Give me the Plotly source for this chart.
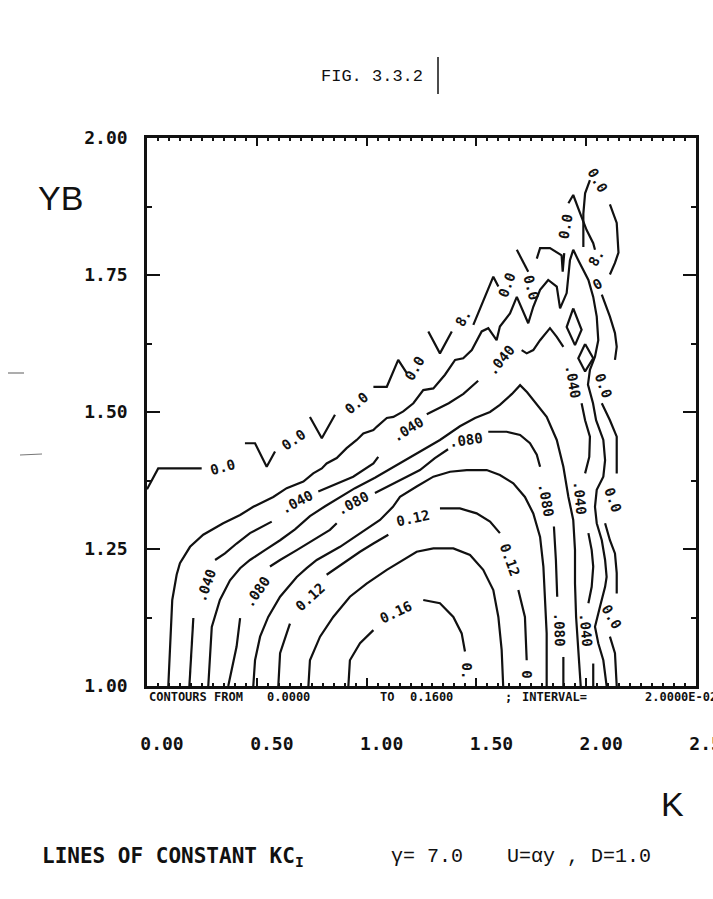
import plotly.graph_objects as go

# ---------------- data (K, YB) ----------------
# contour 0.16
c016_k = [0.917, 0.924, 0.970, 1.031, None, 1.258, 1.334, 1.395, 1.433, 1.448]
c016_yb = [1.000, 1.047, 1.078, 1.102, None, 1.157, 1.151, 1.126, 1.096, 1.063]

# contour 0.14
c014_k = [0.735, 0.742, 0.788, 0.848, 0.924, 1.000, 1.092, 1.167, 1.228, 1.304, 1.395,
          1.471, 1.531, 1.577, 1.600, 1.615, 1.622]
c014_yb = [1.000, 1.047, 1.090, 1.126, 1.163, 1.187, 1.212, 1.230, 1.245, 1.251, 1.251,
           1.239, 1.212, 1.175, 1.126, 1.066, 1.000]

# contour 0.12
c012_k = [0.598, 0.606, 0.636, 0.651, None, 0.818, 0.894, 0.970, 1.031, 1.099, None,
          1.334, 1.425, 1.501, 1.562, 1.607, None, 1.691, 1.721, 1.729]
c012_yb = [1.000, 1.060, 1.096, 1.114, None, 1.203, 1.224, 1.245, 1.260, 1.276, None,
           1.324, 1.324, 1.315, 1.300, 1.279, None, 1.175, 1.126, 1.047]

# contour 0.10
c010_k = [0.484, 0.492, 0.515, 0.552, 0.606, 0.651, 0.682, 0.727, 0.773, 0.879, 0.970,
          1.061, 1.120, 1.152, 1.228, 1.304, 1.380, 1.456, 1.547, 1.607, 1.668, 1.721,
          1.759, 1.790, 1.805, 1.812, 1.820, 1.820]
c010_yb = [1.000, 1.047, 1.090, 1.126, 1.163, 1.184, 1.199, 1.215, 1.230, 1.254, 1.279,
           1.303, 1.327, 1.345, 1.364, 1.382, 1.391, 1.394, 1.394, 1.385, 1.370, 1.345,
           1.315, 1.272, 1.218, 1.157, 1.096, 1.000]

# contour 0.08
c008_k = [0.370, 0.408, 0.424, None, 0.560, 0.606, 0.682, 0.757, 0.833, 0.864, None,
          1.038, 1.122, 1.183, 1.243, 1.311, 1.371, None, 1.554, 1.638, 1.699, 1.744,
          1.775, 1.790, None, 1.853, 1.862, 1.868, None, 1.896, 1.896]
c008_yb = [1.000, 1.072, 1.124, None, 1.218, 1.230, 1.248, 1.266, 1.285, 1.297, None,
           1.352, 1.370, 1.382, 1.394, 1.416, 1.432, None, 1.464, 1.464, 1.458, 1.443,
           1.422, 1.400, None, 1.291, 1.230, 1.163, None, 1.053, 1.000]

# contour 0.06
c006_k = [0.279, 0.295, 0.332, 0.378, 0.424, 0.469, 0.537, 0.606, 0.674, 0.742, 0.811,
          0.879, 0.947, 1.038, 1.152, 1.243, 1.334, 1.425, 1.494, 1.562, 1.607, 1.662,
          1.699, 1.731, 1.759, 1.820, 1.866, 1.896, 1.919, 1.941, 1.949, 1.949, 1.954,
          1.964, 1.975]
c006_yb = [1.000, 1.108, 1.157, 1.193, 1.215, 1.230, 1.248, 1.266, 1.286, 1.310, 1.328,
           1.345, 1.361, 1.380, 1.407, 1.427, 1.449, 1.474, 1.489, 1.500, 1.513, 1.533,
           1.549, 1.536, 1.522, 1.491, 1.449, 1.400, 1.345, 1.303, 1.248, 1.187, 1.126,
           1.066, 1.000]

# contour 0.04
c004_k = [0.193, 0.204, 0.211, None, 0.310, 0.355, 0.408, 0.469, 0.568, None,
          0.780, 0.864, 0.939, 1.031, 1.053, None, 1.274, 1.374, 1.441, 1.508, None,
          1.706, 1.729, 1.759, 1.790, 1.835, 1.866, 1.896, None,
          1.979, 1.995, 2.017, 2.014, 1.995, None, 2.010, 2.025, 2.032, 2.025, 2.010, None,
          2.032, 2.032]
c004_yb = [1.000, 1.072, 1.124, None, 1.230, 1.242, 1.260, 1.279, 1.300, None,
           1.355, 1.370, 1.382, 1.406, 1.418, None, 1.496, 1.516, 1.533, 1.557, None,
           1.613, 1.607, 1.613, 1.631, 1.653, 1.637, 1.619, None,
           1.516, 1.485, 1.455, 1.418, 1.388, None, 1.279, 1.248, 1.218, 1.181, 1.151, None,
           1.041, 1.000]

# contour 0.02
c002_k = [0.097, 0.105, 0.115, 0.135, 0.150, 0.196, 0.256, 0.347, 0.424, 0.484, 0.530,
          0.575, 0.636, 0.712, 0.757, 0.796, 0.818, 0.864, 0.909, 0.955, 0.985, 1.031,
          1.046, 1.092, 1.122, 1.167, 1.213, 1.258, 1.304, 1.357, 1.403, 1.440, 1.479,
          1.524, 1.554, 1.592, 1.607, 1.653, 1.684, 1.736, 1.759, 1.790, 1.827, 1.866,
          1.881, 1.911, 1.926, 1.941, 1.964, 2.010, 2.032, 2.048, 2.055, 2.040, 2.017,
          2.008, 2.031, 2.045, 2.078, 2.086, 2.078, 2.048, 2.040, 2.048, 2.071, 2.086,
          2.093, 2.086, 2.063, 2.040, 2.055, 2.078, 2.093]
c002_yb = [1.000, 1.078, 1.157, 1.203, 1.224, 1.254, 1.276, 1.297, 1.312, 1.327, 1.336,
           1.345, 1.361, 1.373, 1.388, 1.397, 1.406, 1.416, 1.434, 1.449, 1.461, 1.467,
           1.473, 1.489, 1.491, 1.501, 1.516, 1.540, 1.543, 1.568, 1.595, 1.598, 1.613,
           1.647, 1.653, 1.631, 1.656, 1.680, 1.710, 1.662, 1.692, 1.723, 1.741, 1.729,
           1.689, 1.717, 1.777, 1.796, 1.777, 1.741, 1.710, 1.674, 1.631, 1.601, 1.577,
           1.550, 1.516, 1.485, 1.449, 1.412, 1.382, 1.358, 1.327, 1.297, 1.266, 1.230,
           1.199, 1.181, 1.145, 1.108, 1.078, 1.047, 1.000]

# contour 0.0 (outer boundary)
c000_k = [0.000, 0.051, 0.249, None, 0.446, 0.492, 0.545, 0.583, None, 0.742, 0.796, 0.856,
          None, 1.031, 1.092, 1.144, 1.183, None, 1.281, 1.334, 1.388, None, 1.486, 1.531,
          1.577, 1.600, None, 1.684, 1.736, None, 1.775, 1.790, 1.835, 1.888, 1.893, 1.900,
          None, 1.919, 1.941, 1.972, 2.002, 2.032, 2.040, None, 2.071, 2.108, 2.131, 2.139,
          2.131, None, 2.071, 2.108, 2.139, 2.139, None, 2.086, 2.108, 2.131, 2.139, 2.139,
          None, 2.108, 2.131, 2.139]
c000_yb = [1.359, 1.397, 1.397, None, 1.443, 1.443, 1.400, 1.428, None, 1.491, 1.452, 1.495,
           None, 1.546, 1.546, 1.595, 1.571, None, 1.647, 1.607, 1.647, None, 1.659, 1.704,
           1.747, 1.729, None, 1.796, 1.756, None, 1.780, 1.799, 1.799, 1.786, 1.756, 1.790,
           None, 1.881, 1.896, 1.863, 1.832, 1.808, 1.796, None, 1.714, 1.674, 1.644, 1.619,
           1.595, None, 1.516, 1.485, 1.455, 1.388, None, 1.297, 1.266, 1.242, 1.206, 1.169,
           None, 1.090, 1.060, 1.000]

# small closed 0.0 island near the top right
island_k = [2.108, 2.139, 2.147, 2.131, 2.108, None, 2.017, 1.995, 1.987, 1.987]
island_yb = [1.879, 1.845, 1.791, 1.772, 1.751, None, 1.923, 1.899, 1.862, 1.801]

# two small diamond-shaped closed contours
diamond1_k = [1.941, 1.979, 1.949, 1.911, 1.941]
diamond1_yb = [1.689, 1.650, 1.622, 1.655, 1.689]
diamond2_k = [1.995, 2.032, 1.995, 1.964, 1.995]
diamond2_yb = [1.624, 1.598, 1.574, 1.598, 1.624]

# contour labels
label_text = ["0.16", "0.", "0.12", "0.12", "0.12", "0",
              ".080", ".080", ".080", ".080", ".080",
              ".040", ".040", ".040", ".040", ".040", ".040", ".040",
              "0.0", "0.0", "0.0", "0.0", "8.", "0.0", "0.0", "0.0", "8.", "0",
              "0.0", "0.0", "0.0", "0.0"]
label_k = [1.134, 1.456, 0.742, 1.211, 1.653, 1.729,
           0.500, 0.939, 1.453, 1.817, 1.878,
           0.270, 0.682, 1.189, 1.612, 1.941, 1.972, 1.999,
           0.346, 0.666, 0.955, 1.220, 1.440, 1.638, 1.752, 1.905, 2.045, 2.051,
           2.077, 2.122, 2.117, 2.051]
label_yb = [1.135, 1.027, 1.163, 1.307, 1.230, 1.022,
            1.172, 1.334, 1.449, 1.339, 1.102,
            1.184, 1.336, 1.469, 1.595, 1.555, 1.343, 1.102,
            1.400, 1.449, 1.516, 1.580, 1.671, 1.732, 1.727, 1.838, 1.781, 1.734,
            1.549, 1.339, 1.126, 1.923]

# axis ticks
x_tick_vals = [0.0, 0.5, 1.0, 1.5, 2.0, 2.5]
x_tick_text = ["0.00", "0.50", "1.00", "1.50", "2.00", "2.50"]
y_tick_vals = [1.0, 1.25, 1.5, 1.75, 2.0]
y_tick_text = ["1.00", "1.25", "1.50", "1.75", "2.00"]

# ---------------- styling / layout ----------------
label_angle = [-25, 90, -42, -12, 70, 90,
               -55, -28, -8, 80, 88,
               -70, -28, -32, -50, 80, 85, 85,
               -15, -35, -40, -60, -60, -70, 75, -80, -60, -30,
               70, 70, 60, 60]

W, H = 713, 899
ML, MR, MT, MB = 147, 17, 138, 213
PW, PH = W - ML - MR, H - MT - MB


def paper(px, py):
    return (px - ML) / PW, (H - MB - py) / PH


INK = "#111111"
fig = go.Figure()

for kk, yy in [(c000_k, c000_yb), (c002_k, c002_yb), (c004_k, c004_yb),
               (c006_k, c006_yb), (c008_k, c008_yb), (c010_k, c010_yb),
               (c012_k, c012_yb), (c014_k, c014_yb), (c016_k, c016_yb),
               (island_k, island_yb), (diamond1_k, diamond1_yb),
               (diamond2_k, diamond2_yb)]:
    fig.add_trace(go.Scatter(x=kk, y=yy, mode="lines", connectgaps=False,
                             line=dict(color=INK, width=2.2),
                             hoverinfo="skip", showlegend=False))

lab_font = dict(family="DejaVu Sans Mono", size=14, color=INK, weight="bold")
for t, k, yb, a in zip(label_text, label_k, label_yb, label_angle):
    fig.add_annotation(x=k, y=yb, xref="x", yref="y", text=t, textangle=a,
                       showarrow=False, font=lab_font)

tick_font = dict(family="DejaVu Sans Mono", size=18, color=INK, weight="bold")
fig.update_xaxes(range=[0, 2.5], showgrid=False, zeroline=False, showline=True,
                 linecolor=INK, linewidth=2.5, mirror="allticks", ticks="inside",
                 ticklen=8, tickwidth=2, tickcolor=INK, automargin=False,
                 tickvals=x_tick_vals, ticktext=x_tick_text, tickfont=tick_font,
                 ticklabelstandoff=40, ticklabelshift=15, ticklabeloverflow="allow",
                 minor=dict(dtick=0.05, ticks="inside", ticklen=3, tickwidth=1.5,
                            tickcolor=INK, showgrid=False))
fig.update_yaxes(range=[1, 2], showgrid=False, zeroline=False, showline=True,
                 linecolor=INK, linewidth=2.5, mirror="allticks", ticks="inside",
                 ticklen=13, tickwidth=2, tickcolor=INK, automargin=False,
                 tickvals=y_tick_vals, ticktext=y_tick_text, tickfont=tick_font,
                 ticklabelstandoff=13,
                 minor=dict(dtick=0.125, ticks="inside", ticklen=5, tickwidth=1.5,
                            tickcolor=INK, showgrid=False))


def text_at(px, py, txt, size, family, xanchor="center", weight="normal"):
    x, y = paper(px, py)
    fig.add_annotation(x=x, y=y, xref="paper", yref="paper", text=txt,
                       showarrow=False, xanchor=xanchor, yanchor="middle",
                       font=dict(family=family, size=size, color=INK, weight=weight))


# header
text_at(372, 77, "FIG. 3.3.2", 17, "Liberation Mono")
x0, y0 = paper(438, 57)
x1, y1 = paper(438, 94)
fig.add_shape(type="line", xref="paper", yref="paper", x0=x0, y0=y0, x1=x1, y1=y1,
              line=dict(color=INK, width=1.5))

# axis titles
text_at(60, 198, "YB", 34, "Liberation Sans")
text_at(672, 804, "K", 34, "Liberation Sans")

# contour info line under the frame
info_font = "DejaVu Sans Mono"
for px, txt in [(147, "CONTOURS FROM"), (265, "0.0000"), (378, "TO"), (408, "0.1600"),
                (503, ";"), (520, "INTERVAL="), (643, "2.0000E-02")]:
    text_at(px, 697, txt, 12, info_font, xanchor="left", weight="bold")

# caption
text_at(40, 857, "LINES OF CONSTANT KC<sub>I</sub>", 21, "DejaVu Sans Mono",
        xanchor="left", weight="bold")
text_at(389, 856, "γ= 7.0", 20, "Liberation Mono", xanchor="left")
text_at(505, 856, "U=αy , D=1.0", 20, "Liberation Mono", xanchor="left")

# scan specks in the left margin
for (ax0, ay0, ax1, ay1) in [(20, 455, 42, 454), (8, 373, 24, 373)]:
    p0 = paper(ax0, ay0)
    p1 = paper(ax1, ay1)
    fig.add_shape(type="line", xref="paper", yref="paper", x0=p0[0], y0=p0[1],
                  x1=p1[0], y1=p1[1], line=dict(color="#777777", width=1.2))

fig.update_layout(width=W, height=H, margin=dict(l=ML, r=MR, t=MT, b=MB),
                  paper_bgcolor="white", plot_bgcolor="white", showlegend=False)

fig.write_html("out.html")
